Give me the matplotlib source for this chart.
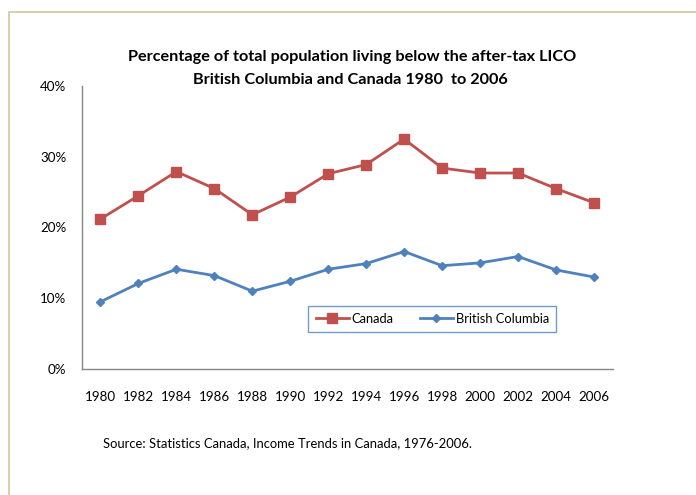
import matplotlib
matplotlib.use("Agg")
import matplotlib.pyplot as plt
from matplotlib.patches import Rectangle
from matplotlib.ticker import FuncFormatter

plt.rcParams['font.family'] = ['Lato', 'DejaVu Sans']

# data
years = [1980, 1982, 1984, 1986, 1988, 1990, 1992, 1994, 1996, 1998, 2000, 2002, 2004, 2006]
canada = [21.2, 24.5, 27.9, 25.5, 21.8, 24.3, 27.6, 28.9, 32.5, 28.4, 27.7, 27.7, 25.5, 23.5]
bc = [9.5, 12.1, 14.1, 13.2, 11.0, 12.4, 14.1, 14.9, 16.6, 14.6, 15.0, 15.9, 14.0, 13.0]
yticks = [0, 10, 20, 30, 40]

W, H = 696, 495
fig = plt.figure(figsize=(W / 100, H / 100), dpi=100)

# outer chart border (tan, runs off the right and bottom edge)
fig.patches.append(Rectangle((9 / W, -0.1), 1.2, 1 - 11.5 / H + 0.1,
                             transform=fig.transFigure, fill=False,
                             edgecolor='#d2cba6', linewidth=1.3))

left, right, top, bottom = 81.5, 613, 86, 369
ax = fig.add_axes([left / W, 1 - bottom / H, (right - left) / W, (bottom - top) / H])

ax.plot(years, canada, color='#c0504d', linewidth=2.0, marker='s', markersize=6.5,
        label='Canada')
ax.plot(years, bc, color='#4f81bd', linewidth=2.0, marker='D', markersize=4.5,
        label='British Columbia')

ax.set_xlim(1979, 2007)
ax.set_ylim(0, 40)
ax.set_xticks(years)
ax.set_yticks(yticks)
ax.yaxis.set_major_formatter(FuncFormatter(lambda v, p: '%d%%' % v))
ax.tick_params(axis='both', length=0, labelsize=9.6, colors='black')
ax.tick_params(axis='x', pad=16)
ax.tick_params(axis='y', pad=11)

for s in ['top', 'right']:
    ax.spines[s].set_visible(False)
for s in ['left', 'bottom']:
    ax.spines[s].set_color('#868686')
    ax.spines[s].set_linewidth(1.0)

leg = ax.legend(loc='center', bbox_to_anchor=(0.66, 0.178), ncol=2, fontsize=9.3,
                frameon=True, fancybox=False, borderpad=0.55, handlelength=2.6,
                columnspacing=2.0, handletextpad=0.2)
leg.get_frame().set_edgecolor('#4f81bd')
leg.get_frame().set_linewidth(1.0)

fig.text(352 / W, 1 - 57 / H, 'Percentage of total population living below the after-tax LICO',
         ha='center', va='center', fontsize=11.7, fontweight='bold')
fig.text(350 / W, 1 - 80 / H, 'British Columbia and Canada 1980  to 2006',
         ha='center', va='center', fontsize=11.7, fontweight='bold')

fig.text(103 / W, 1 - 443 / H, 'Source: Statistics Canada, Income Trends in Canada, 1976-2006.',
         ha='left', va='center', fontsize=9.4)

fig.savefig('out.png', dpi=100)
